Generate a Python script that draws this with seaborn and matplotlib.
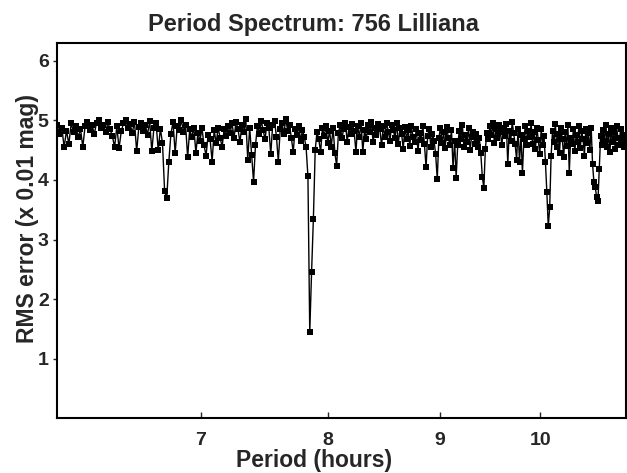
import numpy as np
import pandas as pd
import seaborn as sns
import matplotlib
matplotlib.use("Agg")
import matplotlib.pyplot as plt
from matplotlib.ticker import FixedLocator, FixedFormatter, MultipleLocator, NullLocator

# period grid of the spectrum (hours), regular step
period_start = 6.02
period_step = 0.015

# RMS error (x 0.01 mag), one value per period step
rms = [
    4.92, 4.78, 4.88, 4.55, 4.83, 4.60, 4.95, 4.81, 4.90, 4.72,
    4.86, 4.55, 4.91, 4.98, 4.84, 4.93, 4.77, 4.96, 5.00, 4.88,
    4.93, 4.80, 4.97, 4.85, 4.74, 4.55, 4.90, 4.53, 4.82, 4.95,
    5.01, 4.87, 4.94, 4.79, 4.98, 4.48, 4.89, 4.96, 4.83, 4.92,
    4.76, 4.99, 4.48, 4.88, 4.95, 4.50, 4.86, 4.62, 3.81, 3.69,
    4.31, 4.78, 4.97, 4.45, 4.90, 4.84, 5.00, 4.81, 4.93, 4.38,
    4.85, 4.72, 4.88, 4.46, 4.79, 4.66, 4.87, 4.58, 4.41, 4.75,
    4.68, 4.31, 4.84, 4.62, 4.88, 4.70, 4.56, 4.86, 4.74, 4.90,
    4.79, 4.95, 4.71, 4.98, 4.86, 4.63, 4.93, 4.80, 5.02, 4.34,
    4.88, 4.42, 3.97, 4.58, 4.91, 4.77, 4.99, 4.84, 4.68, 4.96,
    4.87, 4.43, 4.92, 4.99, 4.73, 4.31, 4.85, 4.95, 4.78, 5.03,
    4.82, 4.93, 4.70, 4.47, 4.86, 4.76, 4.90, 4.66, 4.84, 4.72,
    4.55, 4.06, 1.44, 2.45, 3.35, 4.50, 4.81, 4.68, 4.47, 4.87,
    4.74, 4.90, 4.62, 4.83, 4.56, 4.88, 4.45, 4.24, 4.79, 4.92,
    4.70, 4.86, 4.95, 4.64, 4.89, 4.77, 4.94, 4.82, 4.47, 4.91,
    4.72, 4.96, 4.47, 4.84, 4.68, 4.93, 4.80, 4.97, 4.63, 4.88,
    4.76, 4.94, 4.85, 4.58, 4.90, 4.73, 4.96, 4.81, 4.66, 4.92,
    4.84, 4.71, 4.95, 4.60, 4.87, 4.78, 4.52, 4.89, 4.69, 4.84,
    4.57, 4.90, 4.72, 4.63, 4.86, 4.48, 4.79, 4.67, 4.91, 4.60,
    4.21, 4.74, 4.85, 4.55, 4.78, 4.66, 4.43, 4.01, 4.70, 4.88,
    4.62, 4.80, 4.53, 4.89, 4.71, 4.58, 4.84, 4.20, 4.66, 4.04,
    4.59, 4.82, 4.69, 4.92, 4.55, 4.76, 4.64, 4.87, 4.50, 4.73,
    4.81, 4.61, 4.77, 4.56, 4.70, 4.45, 4.05, 3.87, 4.52, 4.79,
    4.68, 4.90, 4.75, 4.96, 4.62, 4.85, 4.71, 4.93, 4.80, 4.58,
    4.88, 4.74, 4.94, 4.27, 4.82, 4.66, 4.97, 4.79, 4.60, 4.34,
    4.86, 4.30, 4.75, 4.12, 4.69, 4.91, 4.58, 4.83, 4.72, 4.95,
    4.61, 4.80, 4.52, 4.88, 4.67, 4.43, 4.85, 4.59, 4.74, 4.30,
    3.79, 3.22, 3.54, 4.40, 4.82, 4.63, 4.94, 4.55, 4.78, 4.46,
    4.87, 4.68, 4.39, 4.80, 4.57, 4.92, 4.12, 4.71, 4.60, 4.85,
    4.48, 4.76, 4.64, 4.90, 4.53, 4.82, 4.69, 4.41, 4.86, 4.62,
    4.79, 4.50, 4.88, 4.27, 3.97, 3.89, 3.71, 3.64, 4.18, 4.74,
    4.58, 4.84, 4.66, 4.92, 4.55, 4.78, 4.47, 4.87, 4.63, 4.81,
    4.52, 4.90, 4.70, 4.59, 4.85, 4.64, 4.76, 4.55, 4.71,
]

x_ticks = [7, 8, 9, 10]
x_tick_labels = ["7", "8", "9", "10"]

period = np.round(period_start + period_step * np.arange(len(rms)), 4)
df = pd.DataFrame({"period": period, "rms": rms})

sns.set_style("white")
plt.rcParams["font.family"] = ["Liberation Sans", "DejaVu Sans"]
plt.rcParams["font.weight"] = "bold"

fig = plt.figure(figsize=(6.27, 4.73), dpi=100)
ax = fig.add_axes([0.091, 0.116, 0.907, 0.793])

sns.lineplot(data=df, x="period", y="rms", ax=ax, color="black", linewidth=1.0,
             marker="s", markersize=4.5, markeredgewidth=0, sort=False)

ax.set_xscale("log")
ax.set_xlim(6.02, 10.94)
ax.set_ylim(0, 6.3)
ax.xaxis.set_major_locator(FixedLocator(x_ticks))
ax.xaxis.set_major_formatter(FixedFormatter(x_tick_labels))
ax.xaxis.set_minor_locator(NullLocator())
ax.yaxis.set_major_locator(FixedLocator([1, 2, 3, 4, 5, 6]))
ax.yaxis.set_minor_locator(MultipleLocator(0.5))

ax.tick_params(axis="x", direction="in", length=4, width=1, labelsize=14, pad=10)
ax.tick_params(axis="y", direction="out", length=3, width=1, labelsize=14, pad=3)
ax.tick_params(axis="y", which="minor", direction="out", length=2, width=0.8)
ax.tick_params(bottom=True, left=True)

for s in ax.spines.values():
    s.set_color("black")
    s.set_linewidth(1.5)

fig.text(0.5, 0.935, "Period Spectrum: 756 Lilliana", fontsize=17, fontweight="bold",
         ha="center", va="baseline")
ax.set_xlabel("Period (hours)", fontsize=16.5, fontweight="bold")
ax.set_ylabel("RMS error (x 0.01 mag)", fontsize=16.5, fontweight="bold")
ax.xaxis.set_label_coords(0.4517, -0.083)
ax.yaxis.set_label_coords(-0.032, 0.533)

fig.savefig("out.png", dpi=100)
